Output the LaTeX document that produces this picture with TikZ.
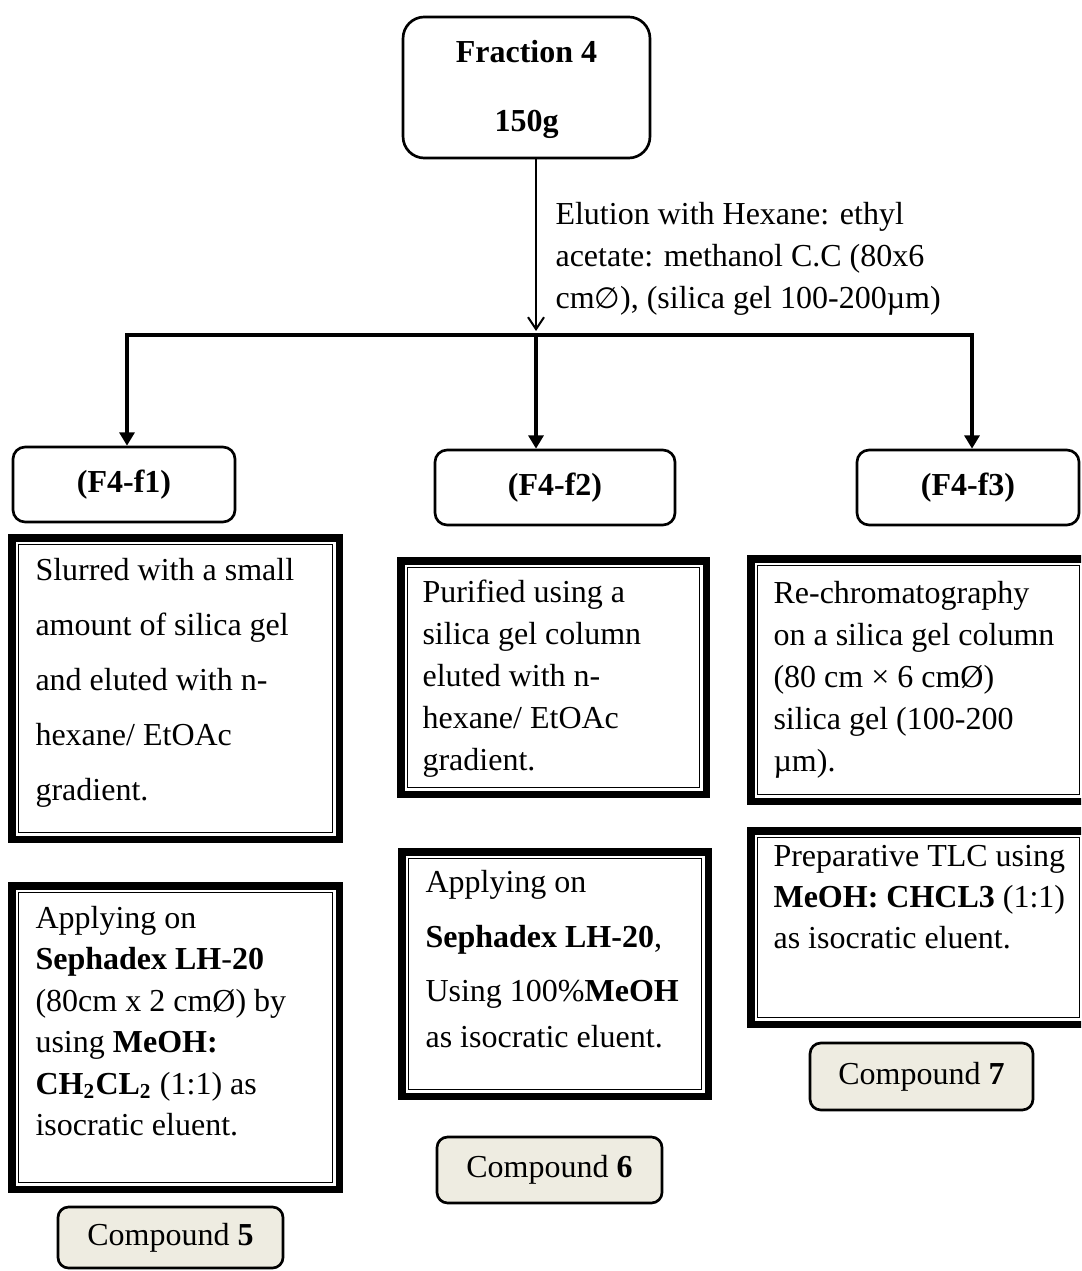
\documentclass[tikz,border=0pt]{standalone}
\usepackage{fontspec}
\setmainfont{Liberation Serif}
\newfontfamily\symfont{DejaVu Sans}
\usetikzlibrary{arrows.meta}
\definecolor{cfill}{HTML}{EEECE1}
\tikzset{ftip/.tip={Triangle[length=5pt,width=5.6pt]}}
\newcommand\dblframe[4]{%
  \draw[thickband] (#1+3.75,#2+3.75) rectangle (#3-3.75,#4-3.75);
  \draw[thinband] (#1+10.5,#2+10.5) rectangle (#3-10.5,#4-10.5);}
\begin{document}
\begin{tikzpicture}[x=0.375pt,y=-0.375pt,
  thickband/.style={line width=2.8125pt},
  thinband/.style={line width=0.64pt},
  rbox/.style={draw, line width=1pt, rounded corners=4.5pt, inner sep=0pt,
    font=\bfseries\fontsize{12}{14}\selectfont},
  cbox/.style={draw, fill=cfill, line width=1pt, rounded corners=4pt, inner sep=0pt,
    font=\fontsize{12}{14}\selectfont},
  txt/.style={anchor=base west, align=left, inner sep=0pt},
  thinarrow/.style={line width=0.75pt, -{Straight Barb[length=4.5pt,width=6pt,line width=0.75pt]}},
  bararrow/.style={line width=1.3pt}
]
\useasboundingbox (0,0) rectangle (1081,1271);
\clip (0,0) rectangle (1081,1271);
\fill[white] (0,0) rectangle (1081,1271);

% top box
\node[rbox, rounded corners=8pt, minimum width=92.6pt, minimum height=52.9pt] (top) at (526.5,87.5) {};
\node[anchor=base, align=center, inner sep=0pt,
  font=\bfseries\fontsize{12}{25.9}\selectfont] (toptxt) at (526.5,132) {Fraction 4\\150g};

% F4 boxes
\node[rbox, minimum width=83.25pt, minimum height=28.1pt] (f1) at (124,484.5) {(F4-f1)};
\node[rbox, minimum width=90pt, minimum height=28.1pt] (f2) at (555,487.5) {(F4-f2)};
\node[rbox, minimum width=83.25pt, minimum height=28.1pt] (f3) at (968,487.5) {(F4-f3)};

% connectors
\coordinate (hub) at (536,335);
\coordinate (b1) at (127,335);
\coordinate (b3) at (972,335);
\draw[thinarrow, shorten >=1.5pt] (top.south -| hub) -- (hub);
\draw[bararrow, {ftip}-{ftip}] (f1.north -| b1) -- (b1) -- (b3) -- (f3.north -| b3);
\draw[bararrow, -{ftip}] (hub) -- (f2.north -| hub);

\node[txt, font=\fontsize{12}{15.75}\selectfont] (elu) at (555,309)
  {Elution with Hexane: ethyl\\acetate: methanol C.C (80x6\\cm{\symfont\fontsize{11}{12}\selectfont ∅}), (silica gel 100-200µm)};

% framed boxes
\dblframe{8}{534}{343}{843}
\dblframe{8}{882}{343}{1193}
\dblframe{397}{557}{710}{798}
\dblframe{398}{848}{712}{1100}
\dblframe{747}{555}{1090}{805}
\dblframe{747}{827}{1090}{1028}

\node[txt, font=\fontsize{12}{20.6}\selectfont] (t1) at (35,800)
  {Slurred with a small\\amount of silica gel\\and eluted with n-\\hexane/ EtOAc\\gradient.};
\node[txt, font=\fontsize{12}{15.56}\selectfont] (t4) at (35,1135.5)
  {Applying on\\\textbf{Sephadex LH}-\textbf{20}\\(80cm x 2 cmØ) by\\using \textbf{MeOH:}\\\textbf{CH\textsubscript{2}CL\textsubscript{2}} (1:1) as\\isocratic eluent.};
\node[txt, font=\fontsize{12}{15.75}\selectfont] (t2) at (422,770)
  {Purified using a\\silica gel column\\eluted with n-\\hexane/ EtOAc\\gradient.};
\node[txt, font=\fontsize{12}{20.44}\selectfont] (t5) at (425,1047)
  {Applying on\\\textbf{Sephadex LH-20},\\Using 100\%\textbf{MeOH}\\[-3.56pt]as isocratic eluent.};
\node[txt, font=\fontsize{12}{15.75}\selectfont] (t3) at (773,771)
  {Re-chromatography\\on a silica gel column\\(80 cm × 6 cmØ)\\silica gel (100-200\\µm).};
\node[txt, font=\fontsize{12}{15.19}\selectfont] (t6) at (773,948)
  {Preparative TLC using\\\textbf{MeOH: CHCL3} (1:1)\\as isocratic eluent.};

% compound boxes
\node[cbox, minimum width=84.4pt, minimum height=22.9pt] (c5) at (170.5,1237.5) {Compound \textbf{5}};
\node[cbox, minimum width=84.4pt, minimum height=24.75pt] (c6) at (549.5,1170) {Compound \textbf{6}};
\node[cbox, minimum width=83.6pt, minimum height=25.1pt] (c7) at (921.5,1076.5) {Compound \textbf{7}};
\end{tikzpicture}
\end{document}
